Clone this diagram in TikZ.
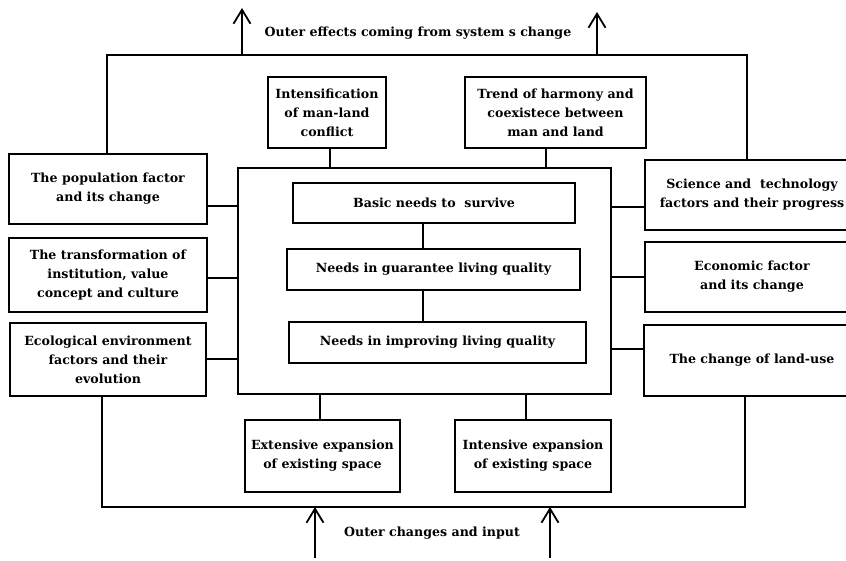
\documentclass[tikz,border=0pt]{standalone}
\usepackage{fontspec}
\setmainfont{DejaVu Serif}
\usetikzlibrary{arrows.meta}
\begin{document}
\begin{tikzpicture}[x=1pt,y=-1pt,
  box/.style={draw,line width=1.8pt,inner sep=0pt,align=center,font=\fontsize{12.6}{19}\selectfont\bfseries},
  lbl/.style={inner sep=0pt,font=\fontsize{12.6}{19}\selectfont\bfseries},
  conn/.style={line width=1.5pt},
  arr/.style={line width=1.8pt,-{Straight Barb[length=14pt,width=17pt,line width=1.8pt]}}]
\useasboundingbox (0,0) rectangle (846,561);
% boxes
\node[box,minimum width=198pt,minimum height=70pt] (pop) at (108,189) {The population factor\\and its change};
\node[box,minimum width=198pt,minimum height=74pt] (trans) at (108,275) {The transformation of\\institution, value\\concept and culture};
\node[box,minimum width=196pt,minimum height=73pt] (eco) at (108,359.5) {Ecological environment\\factors and their\\evolution};
\node[box,minimum width=118pt,minimum height=71pt] (int) at (327,112.5) {Intensification\\of man-land\\conflict};
\node[box,minimum width=181pt,minimum height=71pt] (trend) at (555.5,112.5) {Trend of harmony and\\coexistece between\\man and land};
\node[box,minimum width=214pt,minimum height=70pt] (sci) at (752,195) {Science and\ \ technology\\factors and their progress};
\node[box,minimum width=214pt,minimum height=70pt] (econ) at (752,277) {Economic factor\\and its change};
\node[box,minimum width=216pt,minimum height=71pt] (land) at (752,360.5) {The change of land-use};
\node[draw,line width=1.8pt,minimum width=373pt,minimum height=226pt,inner sep=0pt] (inner) at (424.5,281) {};
\node[box,minimum width=282pt,minimum height=40pt] (basic) at (434,203) {Basic needs to\ \ survive};
\node[box,minimum width=293pt,minimum height=41pt] (guar) at (433.5,269.5) {Needs in guarantee living quality};
\node[box,minimum width=297pt,minimum height=41pt] (impr) at (437.5,342.5) {Needs in improving living quality};
\node[box,minimum width=155pt,minimum height=72pt] (ext) at (322.5,456) {Extensive expansion\\of existing space};
\node[box,minimum width=156pt,minimum height=72pt] (intv) at (533,456) {Intensive expansion\\of existing space};
% labels
\node[lbl] (top) at (418,33) {Outer effects coming from system s change};
\node[lbl] (bot) at (432,533) {Outer changes and input};
% loop coordinates
\coordinate (tl) at (107,55);
\coordinate (tr) at (747,55);
\coordinate (bl) at (102,507);
\coordinate (br) at (745,507);
\coordinate (ua) at (242,8);
\coordinate (ub) at (597,12);
\coordinate (da) at (315,558);
\coordinate (db) at (550,558);
% top loop
\draw[conn,line width=1.8pt] (pop.north -| tl) -- (tl) -- (tr) -- (sci.north -| tr);
\draw[arr] (ua |- tl) -- (ua);
\draw[arr] (ub |- tr) -- (ub);
% bottom loop
\draw[conn,line width=1.8pt] (eco.south -| bl) -- (bl) -- (br) -- (land.south -| br);
\draw[arr] (da) -- (da |- bl);
\draw[arr] (db) -- (db |- br);
% connectors
\draw[conn] (int.south -| 330,0) -- (inner.north -| 330,0);
\draw[conn] (trend.south -| 546,0) -- (inner.north -| 546,0);
\draw[conn] (pop.east |- 0,206) -- (inner.west |- 0,206);
\draw[conn] (trans.east |- 0,278) -- (inner.west |- 0,278);
\draw[conn] (eco.east |- 0,359) -- (inner.west |- 0,359);
\draw[conn] (sci.west |- 0,207) -- (inner.east |- 0,207);
\draw[conn] (econ.west |- 0,277) -- (inner.east |- 0,277);
\draw[conn] (land.west |- 0,349) -- (inner.east |- 0,349);
\draw[conn] (basic.south -| 423,0) -- (guar.north -| 423,0);
\draw[conn] (guar.south -| 423,0) -- (impr.north -| 423,0);
\draw[conn] (inner.south -| 320,0) -- (ext.north -| 320,0);
\draw[conn] (inner.south -| 526,0) -- (intv.north -| 526,0);
\end{tikzpicture}
\end{document}
